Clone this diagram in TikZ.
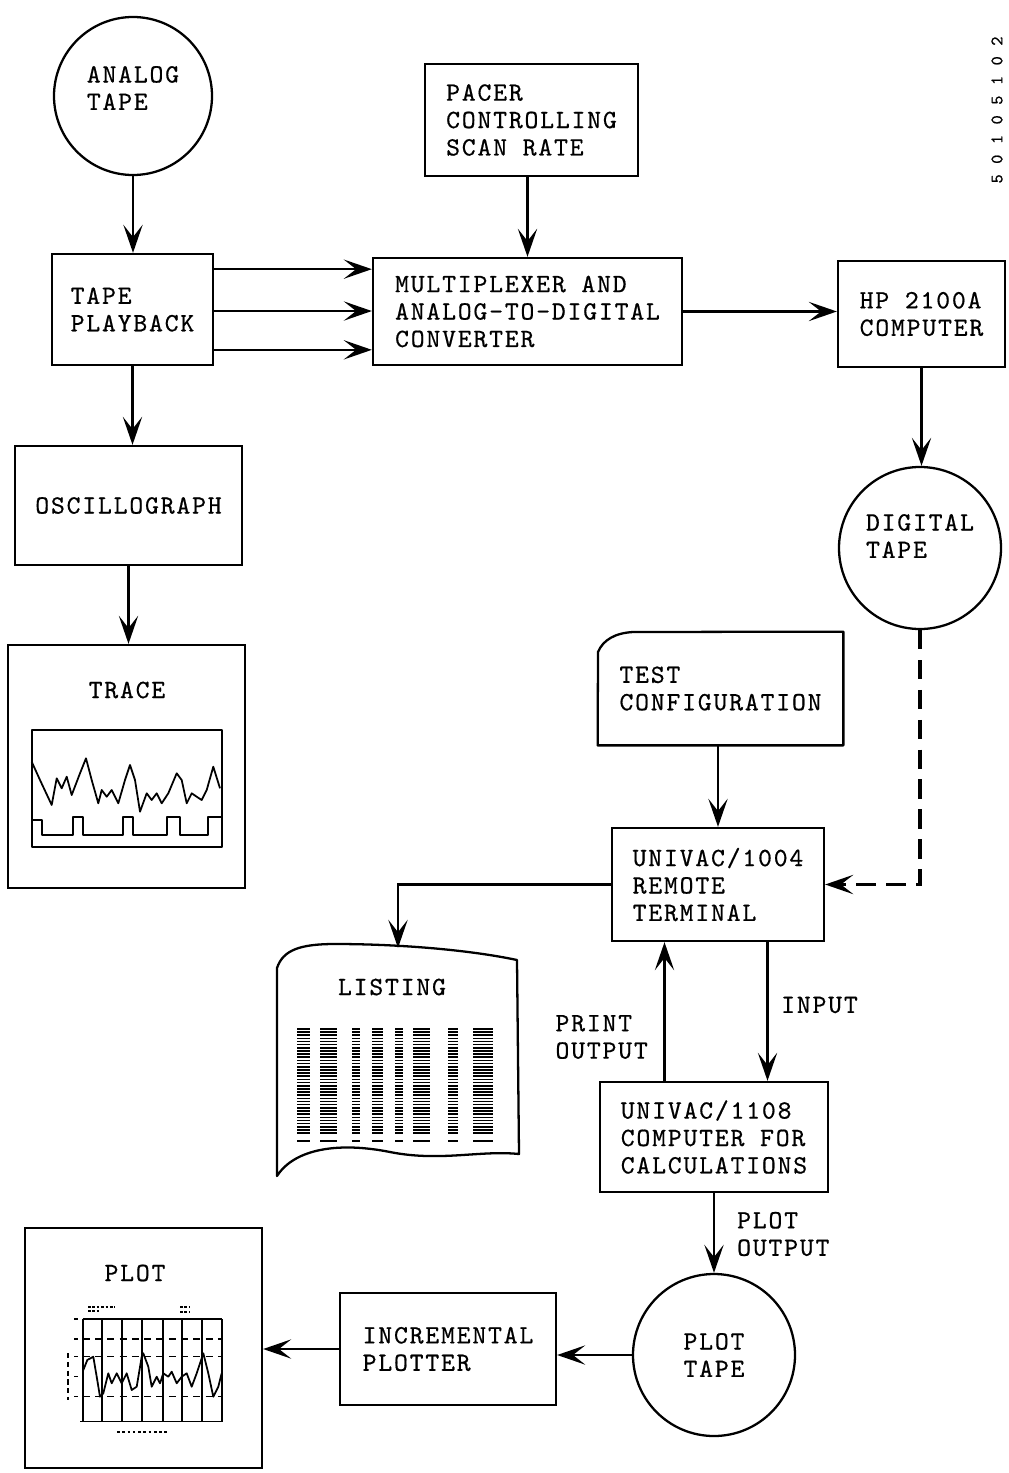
\documentclass[tikz,border=0pt]{standalone}
\usepackage{fontspec}
\newfontfamily\twfont{lmmono10-regular.otf}[LetterSpace=7,FakeBold=0.6]
\usetikzlibrary{arrows.meta,calc}
\newlength\pxu
\setlength\pxu{0.02cm}
\begin{document}
\begin{tikzpicture}[x=0.02cm,y=-0.02cm,
  every node/.style={font=\twfont\fontsize{15}{15.6}\selectfont},
  blk/.style={draw, line width=1.3pt, align=left, inner sep=0pt},
  tapec/.style={draw, circle, line width=1.3pt, align=left, inner sep=0pt},
  arr/.style={line width=1.3pt, -{Stealth[length=16pt,width=11pt,inset=7pt]}},
  thin/.style={line width=1pt, line join=round},
]
\useasboundingbox (0,0) rectangle (1008,1473);

% ---------- nodes ----------
\node[tapec, minimum size=158*\pxu] (at1) at (133,96) {};
\node[align=left] (at1t) at (133,88) {ANALOG\\TAPE};
\node[blk, minimum width=161*\pxu, minimum height=111*\pxu] (tpb) at (132.5,309.5) {TAPE\\PLAYBACK};
\node[blk, minimum width=213*\pxu, minimum height=112*\pxu] (pacer) at (531.5,120) {PACER\\CONTROLLING\\SCAN RATE};
\node[blk, minimum width=309*\pxu, minimum height=107*\pxu] (mux) at (527.5,311.5) {MULTIPLEXER AND\\ANALOG-TO-DIGITAL\\CONVERTER};
\node[blk, minimum width=167*\pxu, minimum height=106*\pxu] (hp) at (921.5,314) {HP 2100A\\COMPUTER};
\node[tapec, minimum size=162*\pxu] (dtape) at (920,548) {};
\node[align=left] (dtapet) at (920,536) {DIGITAL\\TAPE};
\node[blk, minimum width=227*\pxu, minimum height=119*\pxu] (osc) at (128.5,505.5) {OSCILLOGRAPH};
\node[blk, minimum width=237*\pxu, minimum height=243*\pxu] (trace) at (126.5,766.5) {};
\node (tracet) at (127,690) {TRACE};
\node[align=left, minimum width=245*\pxu, minimum height=113*\pxu, inner sep=0pt] (tc) at (720.5,688.5) {TEST\\CONFIGURATION};
\node[blk, minimum width=212*\pxu, minimum height=113*\pxu] (u1004) at (718,884.5) {UNIVAC/1004\\REMOTE\\TERMINAL};
\node[minimum width=242*\pxu, minimum height=237*\pxu, inner sep=0pt] (lst) at (398,1061.5) {};
\node (lstt) at (392,987) {LISTING};
\node[blk, minimum width=228*\pxu, minimum height=110*\pxu] (u1108) at (714,1137) {UNIVAC/1108\\COMPUTER FOR\\CALCULATIONS};
\node[tapec, minimum size=162*\pxu] (ptape) at (714,1355) {PLOT\\TAPE};
\node[blk, minimum width=216*\pxu, minimum height=112*\pxu] (inc) at (448,1349) {INCREMENTAL\\PLOTTER};
\node[blk, minimum width=237*\pxu, minimum height=240*\pxu] (plot) at (143.5,1348) {};
\node (plott) at (135,1273) {PLOT};
\node[rotate=90, font=\twfont\fontsize{10}{10}\selectfont] (code) at (997,110) {5 0 1 0 5 1 0 2};

% labels
\node[align=left, anchor=east] (lpo) at (654,1037) {PRINT\\OUTPUT};
\node[anchor=west] (lin) at (775,1005) {INPUT};
\node[align=left, anchor=west] (lplo) at (731,1234) {PLOT\\OUTPUT};

% ---------- shapes ----------
% test configuration card
\draw[line width=1.3pt, line join=round] (tc.south west) -- (598,652) .. controls (603,640) and (615,633) .. (633,632) -- (tc.north east) -- (tc.south east) -- cycle;
% listing sheet
\draw[line width=1.3pt, line join=round] (277,968) .. controls (283,950) and (300,944) .. (335,944) .. controls (400,944) and (470,950) .. (517,960) -- (519,1154) .. controls (480,1150) and (440,1162) .. (390,1152) .. controls (340,1142) and (295,1148) .. (277,1176) -- cycle;
% listing columns
\foreach \xa/\xb in {297/310,320/337,352/360,372/383,395/403,413/430,448/458,473/493}{
  \draw[line width={(\xb-\xa)*\pxu}, dash pattern=on 0.9pt off 0.9pt] ({(\xa+\xb)/2},1028) -- ({(\xa+\xb)/2},1135);
  \draw[line width=1.6pt] (\xa,1141) -- (\xb,1141);
}
% trace graph
\draw[thin] (32,730) rectangle (222,847);
\draw[thin] (31.7,761.7) -- (40,780) -- (51.7,805) -- (56.7,778.3) -- (61.7,788.3) -- (66.7,776.7) -- (71.7,795) -- (80,773.3) -- (86,758.3) -- (91.7,780) -- (98.3,803.3) -- (101.7,790) -- (106.7,796.7) -- (111.7,790) -- (118.3,803.3) -- (125,780) -- (130,765) -- (135,780) -- (140,811.7) -- (146.7,793.3) -- (151.7,800) -- (156.7,793.3) -- (161.7,803.3) -- (168.3,793.3) -- (176.7,773.3) -- (181.7,780) -- (186.7,803.3) -- (191.7,793.3) -- (196.7,796.7) -- (201.7,800) -- (206.7,790) -- (213.3,766.7) -- (220,788.3);
\draw[thin] (32,820) -- (41.7,820) -- (41.7,835) -- (73.3,835) -- (73.3,816.7) -- (83.3,816.7) -- (83.3,835) -- (123.3,835) -- (123.3,816.7) -- (133.3,816.7) -- (133.3,835) -- (166.7,835) -- (166.7,816.7) -- (180,816.7) -- (180,835) -- (208.3,835) -- (208.3,816.7) -- (222,816.7);
% plot graph
\foreach \xv in {82.7,102.3,122.3,141.7,162.7,181.7,202.3,221.7}{
  \draw[line width=1.2pt] (\xv,1319) -- (\xv,1421.7);
}
\draw[line width=0.8pt] (82.7,1319) -- (221.7,1319);
\draw[line width=0.8pt] (80,1421.7) -- (221.7,1421.7);
\foreach \yv in {1339,1356.7,1396.7}{
  \draw[line width=0.8pt, dash pattern=on 4pt off 3pt] (82.7,\yv) -- (221.7,\yv);
}
\foreach \yv in {1319,1339,1356.7,1376.7,1396.7}{
  \draw[line width=0.8pt] (74,\yv) -- (78,\yv);
}
\draw[line width=0.8pt, dash pattern=on 3pt off 2pt] (68,1353) -- (68,1400);
\draw[line width=0.6pt, dash pattern=on 1.5pt off 1pt] (88,1307) -- (115,1307) (88,1311) -- (100,1311) (180,1307) -- (190,1307) (180,1312) -- (190,1312);
\draw[line width=0.6pt, dash pattern=on 1.5pt off 1.5pt] (117,1432) -- (167,1432);
\draw[thin] (83.3,1370) -- (87.3,1360) -- (93.3,1356.7) -- (96.7,1376.7) -- (100,1396.7) -- (103.3,1393.3) -- (108.3,1373.3) -- (111.7,1383.3) -- (116.7,1373.3) -- (121.7,1383.3) -- (126.7,1373.3) -- (131.7,1390) -- (136.7,1386.7) -- (141.7,1356.7) -- (143.3,1353.3) -- (148.3,1366.7) -- (151.7,1386.7) -- (156.7,1376.7) -- (160,1383.3) -- (163.3,1373.3) -- (168.3,1376.7) -- (171.7,1371.7) -- (176.7,1383.3) -- (181.7,1376.7) -- (186.7,1373.3) -- (191.7,1386.7) -- (196.7,1373.3) -- (200,1363.3) -- (203.3,1353.3) -- (208.3,1373.3) -- (213.3,1396.7) -- (218.3,1386.7) -- (221.7,1373.3);

% ---------- connectors ----------
\draw[arr] (at1.south) -- (at1.south |- tpb.north);
\path ($(tpb.north east)!0.144!(tpb.south east)$) coordinate (r1)
      ($(tpb.north east)!0.5135!(tpb.south east)$) coordinate (r2)
      ($(tpb.north east)!0.856!(tpb.south east)$) coordinate (r3);
\draw[arr] (r1) -- (r1 -| mux.west);
\draw[arr] (r2) -- (r2 -| mux.west);
\draw[arr] (r3) -- (r3 -| mux.west);
\draw[arr] (mux.north |- pacer.south) -- (mux.north);
\draw[arr] (mux.east) -- (mux.east -| hp.west);
\draw[arr] (hp.south) -- (hp.south |- dtape.north);
\draw[arr] (tpb.south) -- (tpb.south |- osc.north);
\draw[arr] (osc.south) -- (osc.south |- trace.north);
\draw[line width=1.8pt, dash pattern=on 11pt off 6pt, -{Stealth[length=16pt,width=11pt,inset=7pt]}] (dtape.south) |- (u1004.east);
\draw[arr] (u1004.north |- tc.south) -- (u1004.north);
\draw[arr] (u1004.west) -| ([yshift=-3pt]lst.north);
\path ($(u1108.north west)!0.285!(u1108.north east)$) coordinate (po);
\path ($(u1004.south west)!0.731!(u1004.south east)$) coordinate (ip);
\draw[arr] (po) -- (po |- u1004.south);
\draw[arr] (ip) -- (ip |- u1108.north);
\draw[arr] (u1108.south) -- (u1108.south |- ptape.north);
\draw[arr] (ptape.west) -- (ptape.west -| inc.east);
\draw[arr] (inc.west) -- (inc.west -| plot.east);
\end{tikzpicture}
\end{document}
